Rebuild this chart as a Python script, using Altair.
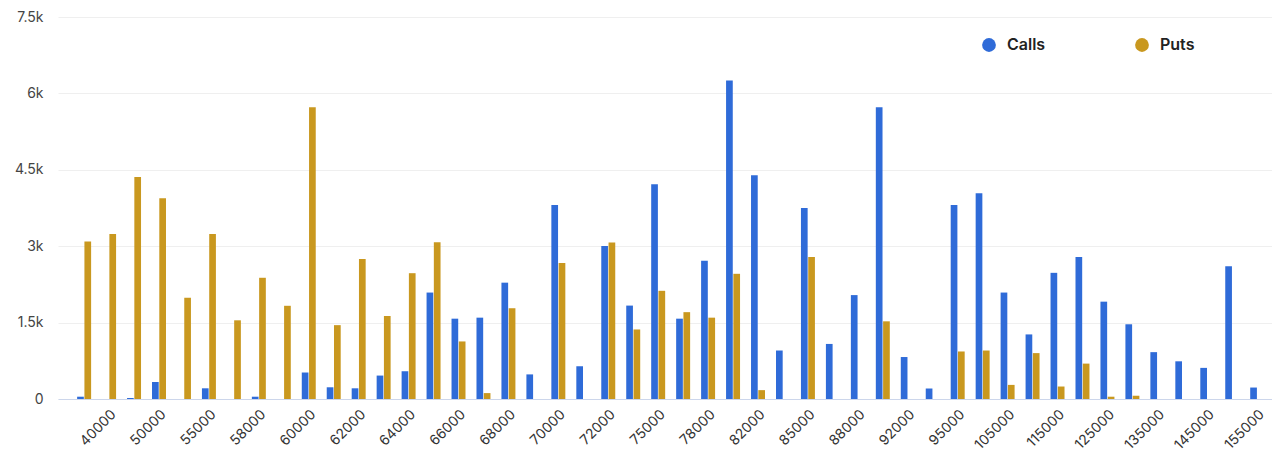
import altair as alt
import pandas as pd

strikes = ["35000", "40000", "45000", "50000", "52000", "55000", "56000", "58000",
           "59000", "60000", "61000", "62000", "63000", "64000", "65000", "66000",
           "67000", "68000", "69000", "70000", "71000", "72000", "74000", "75000",
           "76000", "78000", "80000", "82000", "84000", "85000", "86000", "88000",
           "90000", "92000", "94000", "95000", "100000", "105000", "110000", "115000",
           "120000", "125000", "130000", "135000", "140000", "145000", "150000", "155000"]

calls = [45, 0, 20, 335, 0, 210, 0, 45, 0, 520, 230, 210, 460, 545, 2090, 1577,
         1597, 2284, 483, 3809, 643, 3005, 1834, 4215, 1577, 2716, 6255, 4395, 952, 3751,
         1081, 2040, 5727, 824, 206, 3809, 4041, 2090, 1268, 2477, 2786, 1911, 1467, 920,
         740, 611, 2606, 225]

puts = [3090, 3240, 4360, 3940, 1990, 3240, 1545, 2380, 1830, 5730, 1450, 2750, 1630,
        2470, 3080, 1130, 116, 1782, 0, 2670, 0, 3075, 1365, 2124, 1705, 1597, 2458, 174,
        0, 2786, 0, 0, 1525, 0, 0, 933, 952, 277, 901, 245, 695, 45, 64, 0, 0, 0, 0, 0]

label_strikes = strikes[1::2]
y_ticks = [0, 1500, 3000, 4500, 6000, 7500]
series = ["Calls", "Puts"]
colors = ["#2f6bd8", "#c9981f"]

df = pd.DataFrame({"strike": strikes, "Calls": calls, "Puts": puts})
long = df.melt(id_vars="strike", value_vars=series, var_name="type", value_name="oi")

chart = alt.Chart(long).mark_bar().encode(
    x=alt.X("strike:N", sort=strikes,
            scale=alt.Scale(paddingInner=0.44, paddingOuter=0.54, align=0.71),
            axis=alt.Axis(values=label_strikes, labelAngle=-45, labelAlign="right",
                          labelBaseline="top", ticks=False, grid=False,
                          domainColor="#ccd6eb", domainWidth=1, labelPadding=8,
                          labelFontSize=14, labelColor="#333333", labelFont="Inter",
                          title=None)),
    xOffset=alt.XOffset("type:N", sort=series, scale=alt.Scale(paddingInner=0.08)),
    y=alt.Y("oi:Q", scale=alt.Scale(domain=[0, 7500], nice=False),
            axis=alt.Axis(values=y_ticks,
                          labelExpr="datum.value == 0 ? '0' : (datum.value / 1000) + 'k'",
                          grid=True, gridColor="#efefef", domain=False, ticks=False,
                          labelPadding=15, labelFontSize=14, labelColor="#444444",
                          labelFont="Inter", title=None)),
    color=alt.Color("type:N", sort=series,
                    scale=alt.Scale(domain=series, range=colors),
                    legend=alt.Legend(title=None, orient="none", legendX=923, legendY=20,
                                      direction="horizontal", symbolType="circle",
                                      symbolSize=190, symbolOpacity=1, symbolStrokeWidth=0,
                                      labelFontSize=16, labelFontWeight=600,
                                      labelColor="#222222", labelFont="Inter",
                                      labelOffset=10, columnPadding=88, padding=0)),
).properties(
    width=1214,
    height=382,
    autosize=alt.AutoSizeParams(type="none"),
    padding={"left": 50, "top": 9, "right": 0, "bottom": 57},
).configure_view(stroke=None)

chart.save("out.html", embed_options={"renderer": "svg", "actions": False})
